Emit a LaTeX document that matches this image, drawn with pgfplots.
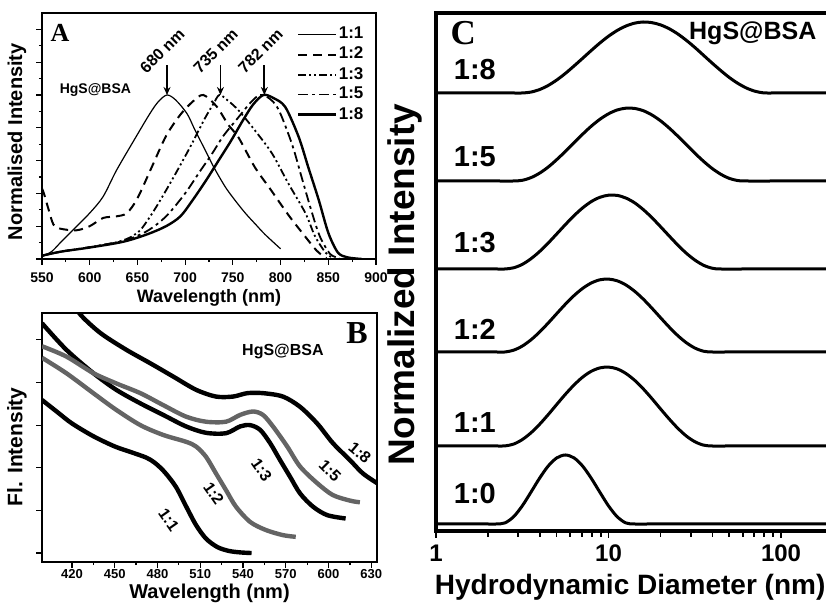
\documentclass[border=0pt]{standalone}
\usepackage{pgfplots}
\pgfplotsset{compat=1.18}
\usepackage{fontspec}
\setmainfont{Liberation Sans}
\newfontfamily\serifbf{Liberation Serif}
\usetikzlibrary{arrows.meta}
\newcommand{\fs}[1]{\fontsize{#1}{#1}\selectfont\bfseries}
\definecolor{bgray}{RGB}{100,100,100}
\begin{document}
\begin{tikzpicture}
\useasboundingbox (0,0) rectangle (413pt,302pt);
% ---------------- Panel A ----------------
\begin{axis}[
 at={(21pt,172.5pt)}, anchor=south west, scale only axis,
 width=167pt, height=123pt,
 xmin=550, xmax=900, ymin=0, ymax=1.5,
 xtick={550,600,...,900}, minor x tick num=1,
 ytick={0,0.2,0.4,0.6,0.8,1.0,1.2,1.4}, minor y tick num=1, yticklabel=\empty,
 xtick pos=bottom, ytick pos=left, tick align=outside,
 major tick length=2.8pt, minor tick length=1.6pt,
 axis line style={line width=0.8pt},
 every tick/.style={line width=0.6pt, black},
 /pgf/number format/assume math mode=true,
 xticklabel style={font=\fs{7}, yshift=-0.5pt},
 xlabel={Wavelength (nm)}, ylabel={Normalised Intensity},
 xlabel style={font=\fs{9}, at={(axis description cs:0.5,-0.157)}, anchor=center},
 ylabel style={font=\fs{10}, at={(axis description cs:-0.075,0.477)}, anchor=center},
 legend style={draw=none, fill=none, at={(axis description cs:0.985,0.965)}, anchor=north east,
   font=\fs{8.5}, row sep=1.4pt, nodes={inner sep=0.6pt}},
 legend cell align=left,
 legend image code/.code={\draw[#1] (0pt,0pt) -- (19pt,0pt);},
]
\addplot[black, line width=0.6pt, smooth, tension=0.5] coordinates {
(550,0.015) (560,0.045) (569,0.098) (583,0.18) (600,0.28) (614,0.38) (628,0.54) (646,0.72) (663,0.886) (672,0.96) (681,1.0) (690,0.97) (702,0.886) (710,0.79) (721,0.664) (730,0.56) (742,0.44) (752,0.36) (763,0.28) (774,0.21) (784,0.148) (800,0.062)};
\addlegendentry{1:1}
\addplot[black, line width=1pt, dash pattern=on 4.5pt off 3pt, smooth, tension=0.5] coordinates {
(550,0.43) (552,0.40) (557,0.30) (562,0.21) (569,0.185) (586,0.175) (600,0.20) (614,0.25) (628,0.26) (639,0.28) (650,0.37) (665,0.56) (680,0.75) (695,0.88) (708,0.96) (719,1.0) (733,0.93) (745,0.82) (756,0.74) (773,0.56) (790,0.42) (808,0.27) (824,0.15) (838,0.05) (848,0.005)};
\addlegendentry{1:2}
\addplot[black, line width=0.9pt, dash pattern=on 4pt off 1.5pt on 1pt off 1.5pt on 1pt off 1.5pt, smooth, tension=0.5] coordinates {
(550,0.02) (570,0.045) (600,0.072) (630,0.105) (645,0.14) (655,0.19) (670,0.32) (688,0.50) (705,0.68) (720,0.85) (730,0.95) (736,1.0) (745,0.965) (756,0.906) (773,0.785) (791,0.644) (808,0.462) (826,0.28) (836,0.14) (847,0.04) (855,0.005)};
\addlegendentry{1:3}
\addplot[black, line width=0.9pt, dash pattern=on 5pt off 2pt on 1.5pt off 2pt, smooth, tension=0.5] coordinates {
(550,0.02) (570,0.045) (600,0.072) (635,0.11) (660,0.17) (680,0.26) (700,0.40) (715,0.53) (728,0.64) (740,0.75) (756,0.865) (768,0.95) (778,1.0) (788,0.98) (798,0.91) (812,0.70) (822,0.50) (832,0.30) (841,0.14) (852,0.03) (862,0.005)};
\addlegendentry{1:5}
\addplot[black, line width=1.2pt, smooth, tension=0.5] coordinates {
(550,0.02) (570,0.045) (600,0.07) (635,0.105) (660,0.15) (680,0.2) (695,0.26) (708,0.36) (722,0.48) (735,0.6) (748,0.72) (760,0.84) (771,0.94) (782,1.0) (793,0.98) (805,0.926) (819,0.744) (829,0.56) (840,0.36) (850,0.16) (860,0.04) (870,0.01) (885,0.0)};
\addlegendentry{1:8}
\node[font={\serifbf\fs{13}}] at (axis cs:569,1.38) {A};
\node[font=\fs{7}] at (axis cs:606,1.03) {HgS@BSA};
\draw[-{Stealth[length=4pt,width=3.5pt]}, line width=0.9pt] (axis cs:681,1.18) -- (axis cs:681,1.0);
\draw[-{Stealth[length=4pt,width=3.5pt]}, line width=0.9pt] (axis cs:737,1.18) -- (axis cs:737,1.0);
\draw[-{Stealth[length=4pt,width=3.5pt]}, line width=0.9pt] (axis cs:783,1.18) -- (axis cs:783,1.0);
\node[font=\fs{8}, rotate=45] at (axis cs:676,1.27) {680 nm};
\node[font=\fs{8}, rotate=45] at (axis cs:732,1.27) {735 nm};
\node[font=\fs{8}, rotate=45] at (axis cs:779,1.27) {782 nm};
\end{axis}
% ---------------- Panel B ----------------
\begin{axis}[
 at={(21pt,21pt)}, anchor=south west, scale only axis,
 width=167.5pt, height=124.5pt,
 xmin=399, xmax=634, ymin=-0.21, ymax=5.63,
 xtick={420,450,...,630}, minor x tick num=1,
 ytick={0,1,2,3,4,5}, yticklabel=\empty,
 xtick pos=bottom, ytick pos=left, tick align=outside,
 major tick length=2.8pt, minor tick length=1.6pt,
 axis line style={line width=0.8pt},
 every tick/.style={line width=0.6pt, black},
 /pgf/number format/assume math mode=true,
 xticklabel style={font=\fs{6.5}, yshift=2.5pt},
 xlabel={Wavelength (nm)}, ylabel={Fl. Intensity},
 xlabel style={font=\fs{10}, at={(axis description cs:0.5,-0.125)}, anchor=center},
 ylabel style={font=\fs{10.5}, at={(axis description cs:-0.075,0.463)}, anchor=center},
]
\addplot[black, line width=2.2pt, smooth, tension=0.5] coordinates {
(399,3.59) (410,3.30) (420,3.04) (435,2.74) (450,2.50) (462,2.36) (472,2.24) (478,2.12) (485,1.90) (493,1.55) (500,1.10) (507,0.66) (514,0.34) (522,0.14) (530,0.05) (538,0.015) (546,0.0)};
\addplot[bgray, line width=2.2pt, smooth, tension=0.5] coordinates {
(399,4.58) (416,4.22) (435,3.75) (451,3.36) (468,3.00) (484,2.77) (500,2.61) (507,2.50) (514,2.26) (521,1.87) (528,1.48) (535,1.09) (545,0.73) (556,0.54) (568,0.42) (577,0.38)};
\addplot[black, line width=2.2pt, smooth, tension=0.5] coordinates {
(399,5.39) (416,4.77) (435,4.22) (451,3.83) (468,3.51) (484,3.24) (500,2.97) (514,2.82) (528,2.81) (538,2.97) (545,3.00) (552,2.89) (559,2.58) (566,2.18) (573,1.79) (580,1.40) (589,1.09) (599,0.89) (612,0.81)};
\addplot[bgray, line width=2.2pt, smooth, tension=0.5] coordinates {
(399,4.85) (416,4.61) (435,4.22) (451,3.98) (468,3.75) (484,3.47) (500,3.20) (514,3.08) (528,3.08) (538,3.24) (547,3.32) (554,3.24) (561,2.97) (571,2.50) (580,2.03) (592,1.64) (603,1.36) (615,1.23) (622,1.19)};
\addplot[black, line width=2.2pt, smooth, tension=0.5] coordinates {
(418,6.0) (426,5.59) (440,5.16) (458,4.77) (475,4.45) (491,4.14) (507,3.83) (521,3.67) (533,3.67) (543,3.75) (554,3.75) (568,3.67) (580,3.43) (592,3.04) (603,2.58) (615,2.18) (624,1.87) (634,1.64)};
\node[font={\serifbf\fs{16}}] at (axis cs:620,5.16) {B};
\node[font=\fs{8}] at (axis cs:568,4.73) {HgS@BSA};
\node[font=\fs{8}, rotate=-55] at (axis cs:488,0.78) {1:1};
\node[font=\fs{8}, rotate=-55] at (axis cs:519.5,1.40) {1:2};
\node[font=\fs{8}, rotate=-55] at (axis cs:553,1.95) {1:3};
\node[font=\fs{8}, rotate=-45] at (axis cs:601,1.93) {1:5};
\node[font=\fs{8}, rotate=-40] at (axis cs:622,2.35) {1:8};
\end{axis}
% ---------------- Panel C ----------------
\begin{axis}[
 at={(218pt,36.5pt)}, anchor=south west, scale only axis,
 width=198.5pt, height=259pt,
 xmode=log, xmin=1, xmax=200, ymin=0, ymax=5.18,
 xtick={1,10,100}, xticklabels={1,10,100},
 minor xtick={2,3,4,5,6,7,8,9,20,30,40,50,60,70,80,90,200},
 ytick=\empty,
 xtick pos=bottom, tick align=outside,
 major tick length=3.5pt, minor tick length=3pt,
 axis line style={line width=1.6pt},
 every tick/.style={line width=0.9pt, black},
 xticklabel style={font=\fs{12}},
 xlabel={Hydrodynamic Diameter (nm)}, ylabel={Normalized Intensity},
 xlabel style={font=\fs{14}, at={(axis description cs:0.489,-0.108)}, anchor=center},
 ylabel style={font=\fs{18.5}, at={(axis description cs:-0.078,0.475)}, anchor=center},
]
\addplot[black, line width=1.5pt, smooth, tension=0.5] coordinates {
(1,0.07) (1.585,0.07) (1.995,0.07) (2.239,0.07) (2.512,0.081) (2.818,0.143) (3.162,0.251) (3.548,0.387) (3.981,0.527) (4.467,0.649) (5.012,0.731) (5.623,0.760) (6.310,0.731) (7.079,0.649) (7.943,0.527) (8.913,0.387) (10,0.251) (11.22,0.143) (12.59,0.081) (14.13,0.07) (17.78,0.07) (50,0.07) (200,0.07)};
\addplot[black, line width=1.5pt, smooth, tension=0.5] coordinates {
(1,0.85) (1.585,0.85) (2.239,0.85) (2.512,0.851) (2.818,0.869) (3.162,0.914) (3.548,0.981) (3.981,1.066) (4.467,1.163) (5.012,1.266) (5.623,1.367) (6.310,1.460) (7.079,1.539) (7.943,1.597) (8.913,1.631) (10,1.639) (11.22,1.621) (12.59,1.576) (14.13,1.509) (15.85,1.424) (17.78,1.327) (19.95,1.224) (22.39,1.123) (25.12,1.030) (28.18,0.951) (31.62,0.893) (35.48,0.859) (39.81,0.85) (50,0.85) (100,0.85) (200,0.85)};
\addplot[black, line width=1.5pt, smooth, tension=0.5] coordinates {
(1,1.79) (1.585,1.79) (2.239,1.79) (2.512,1.790) (2.818,1.808) (3.162,1.849) (3.548,1.911) (3.981,1.989) (4.467,2.079) (5.012,2.174) (5.623,2.268) (6.310,2.354) (7.079,2.426) (7.943,2.480) (8.913,2.512) (10,2.519) (11.22,2.502) (12.59,2.461) (14.13,2.399) (15.85,2.321) (17.78,2.231) (19.95,2.136) (22.39,2.042) (25.12,1.956) (28.18,1.884) (31.62,1.830) (35.48,1.798) (39.81,1.79) (50,1.79) (100,1.79) (200,1.79)};
\addplot[black, line width=1.5pt, smooth, tension=0.5] coordinates {
(1,2.62) (1.585,2.62) (2.239,2.62) (2.512,2.620) (2.818,2.632) (3.162,2.666) (3.548,2.722) (3.981,2.794) (4.467,2.879) (5.012,2.971) (5.623,3.064) (6.310,3.153) (7.079,3.231) (7.943,3.294) (8.913,3.337) (10,3.358) (11.22,3.356) (12.59,3.330) (14.13,3.283) (15.85,3.216) (17.78,3.136) (19.95,3.046) (22.39,2.953) (25.12,2.862) (28.18,2.779) (31.62,2.710) (35.48,2.658) (39.81,2.628) (44.67,2.620) (63.1,2.62) (100,2.62) (200,2.62)};
\addplot[black, line width=1.5pt, smooth, tension=0.5] coordinates {
(1,3.50) (1.585,3.50) (2.239,3.50) (2.818,3.500) (3.162,3.507) (3.548,3.533) (3.981,3.578) (4.467,3.639) (5.012,3.714) (5.623,3.796) (6.310,3.882) (7.079,3.968) (7.943,4.048) (8.913,4.117) (10,4.172) (11.22,4.210) (12.59,4.228) (14.13,4.226) (15.85,4.204) (17.78,4.162) (19.95,4.104) (22.39,4.032) (25.12,3.951) (28.18,3.865) (31.62,3.779) (35.48,3.698) (39.81,3.626) (44.67,3.568) (50.12,3.526) (56.23,3.504) (63.10,3.500) (100,3.50) (200,3.50)};
\addplot[black, line width=1.5pt, smooth, tension=0.5] coordinates {
(1,4.38) (1.585,4.38) (2.239,4.38) (2.818,4.38) (3.162,4.380) (3.548,4.389) (3.981,4.414) (4.467,4.455) (5.012,4.510) (5.623,4.576) (6.310,4.650) (7.079,4.727) (7.943,4.805) (8.913,4.880) (10,4.948) (11.22,5.005) (12.59,5.049) (14.13,5.078) (15.85,5.090) (17.78,5.084) (19.95,5.062) (22.39,5.024) (25.12,4.972) (28.18,4.908) (31.62,4.836) (35.48,4.758) (39.81,4.680) (44.67,4.605) (50.12,4.535) (56.23,4.476) (63.10,4.429) (70.79,4.397) (79.43,4.381) (89.13,4.380) (100,4.38) (200,4.38)};
\node[font={\serifbf\fs{17.5}}] at (axis cs:1.44,4.98) {C};
\node[font=\fs{12.5}, anchor=east] at (axis cs:176,4.98) {HgS@BSA};
\node[font=\fs{14.5}] at (axis cs:1.68,4.61) {1:8};
\node[font=\fs{14.5}] at (axis cs:1.68,3.74) {1:5};
\node[font=\fs{14.5}] at (axis cs:1.68,2.88) {1:3};
\node[font=\fs{14.5}] at (axis cs:1.68,2.02) {1:2};
\node[font=\fs{14.5}] at (axis cs:1.68,1.08) {1:1};
\node[font=\fs{14.5}] at (axis cs:1.68,0.37) {1:0};
\end{axis}
\end{tikzpicture}
\end{document}
